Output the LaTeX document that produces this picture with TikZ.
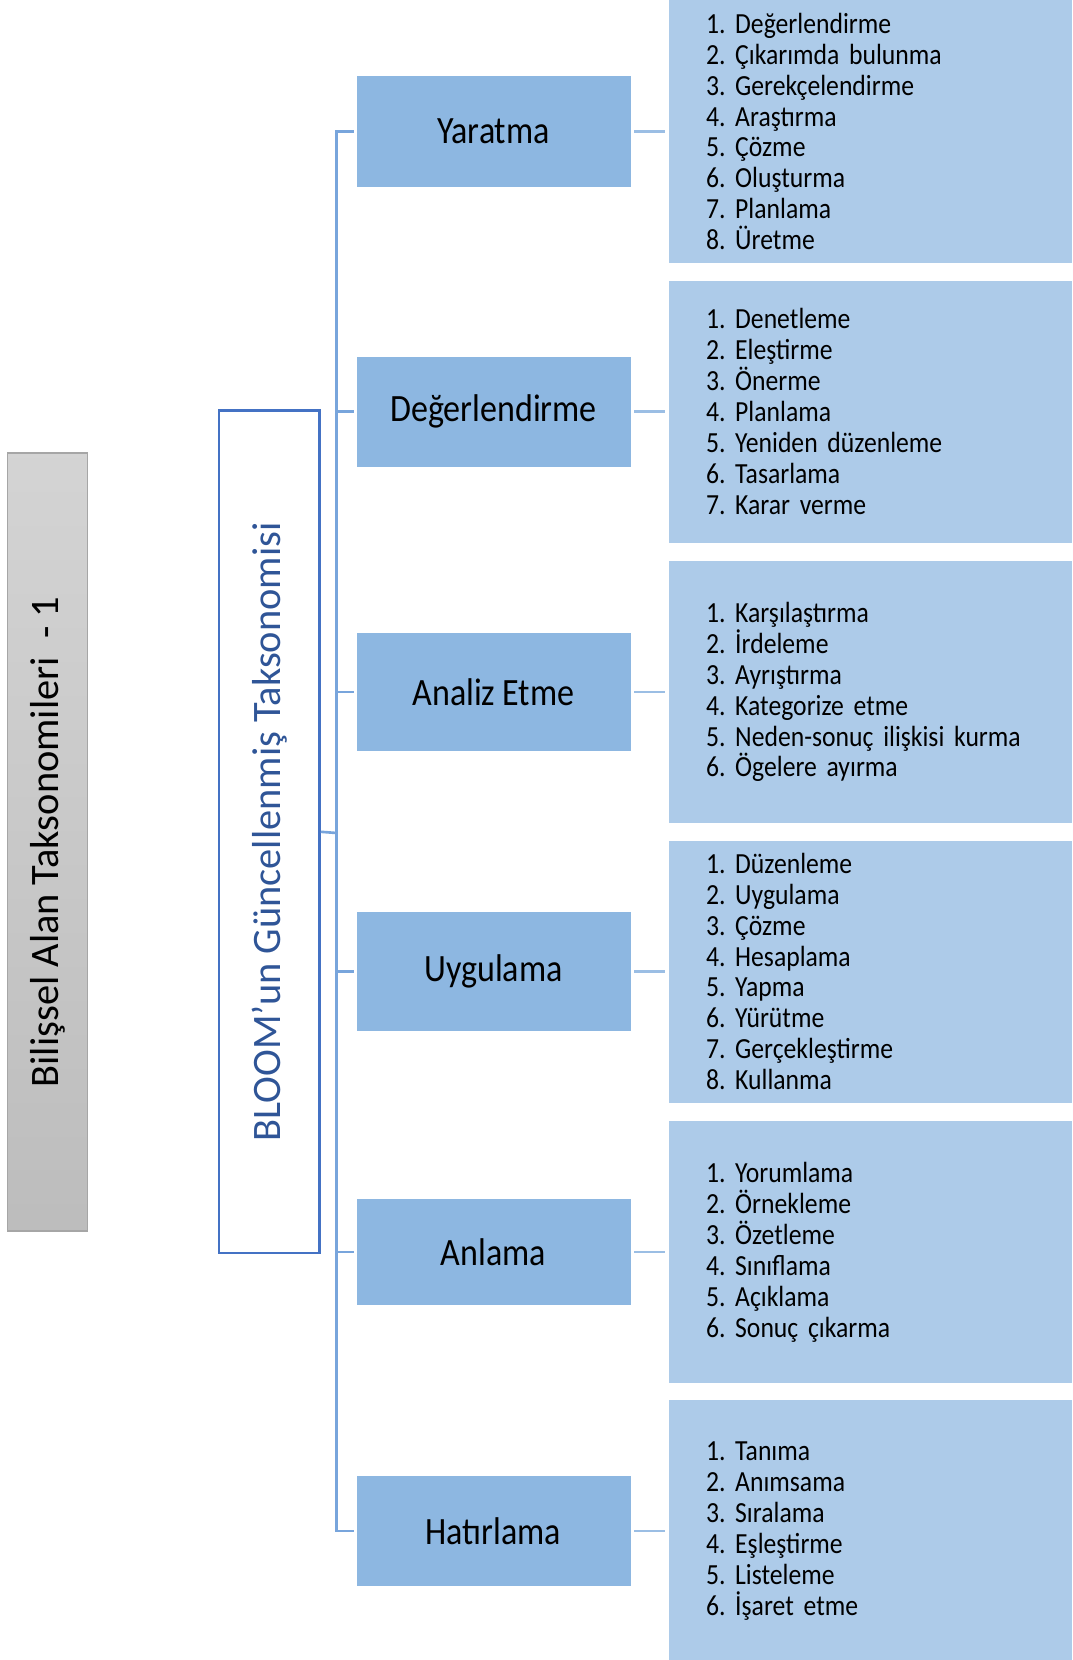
\documentclass[tikz,border=0pt]{standalone}
\usepackage{fontspec}
\setmainfont{Carlito}
\newfontfamily\dar[FakeStretch=0.88]{Carlito}
\newcommand\darbosluk{\spaceskip=0.19em\relax}
\frenchspacing

\definecolor{kategorimavi}{RGB}{141,183,225}
\definecolor{listemavi}{RGB}{173,203,233}
\definecolor{govdemavi}{RGB}{120,165,220}
\definecolor{dalmavi}{RGB}{155,190,228}
\definecolor{bloommavi}{RGB}{47,85,151}
\definecolor{bloomcerceve}{RGB}{68,114,196}

\tikzset{
  kategori/.style={fill=kategorimavi, minimum width=5.48cm, inner sep=0pt,
    font=\dar\fontsize{22}{26}\selectfont\darbosluk},
  liste/.style={fill=listemavi, text width=6.58cm, inner xsep=0.74cm, inner ysep=0pt,
    minimum height=5.24cm, align=left, font=\dar\fontsize{16.6}{17.6}\selectfont\darbosluk},
  govde/.style={draw=govdemavi, line width=1.5pt},
  dal/.style={draw=dalmavi, line width=1.5pt, shorten <=2pt, shorten >=2pt}
}

\begin{document}
\begin{tikzpicture}

\useasboundingbox (0,0) rectangle (21.44,-33.2);

\node at (0.952,-16.84) [rotate=90, minimum width=15.56cm, minimum height=1.61cm,
  top color=black!17, bottom color=black!26, draw=black!35, line width=0.6pt,
  font=\fontsize{23}{27}\selectfont] (baslik) {Bilişsel Alan Taksonomileri\ \ - 1};

\node at (5.386,-16.636) [rotate=90, minimum width=16.85cm, minimum height=2.01cm,
  draw=bloomcerceve, line width=1.4pt, text=bloommavi,
  font=\fontsize{23}{27}\selectfont] (bloom) {BLOOM’un Güncellenmiş Taksonomisi};

\node at (9.87,-2.63) [kategori, minimum height=2.22cm] (yaratma) {Yaratma};
\node at (9.87,-8.23) [kategori, minimum height=2.2cm] (degerlendirme) {Değerlendirme};
\node at (9.87,-13.84) [kategori, minimum height=2.37cm] (analiz) {Analiz Etme};
\node at (9.87,-19.43) [kategori, minimum height=2.37cm] (uygulama) {Uygulama};
\node at (9.87,-25.04) [kategori, minimum height=2.12cm] (anlama) {Anlama};
\node at (9.87,-30.62) [kategori, minimum height=2.2cm] (hatirlama) {Hatırlama};

\node at (17.41,-2.63) [liste] (l1) {1. Değerlendirme\\2. Çıkarımda bulunma\\3. Gerekçelendirme\\4. Araştırma\\5. Çözme\\6. Oluşturma\\7. Planlama\\8. Üretme};
\node at (17.41,-8.23) [liste] (l2) {1. Denetleme\\2. Eleştirme\\3. Önerme\\4. Planlama\\5. Yeniden düzenleme\\6. Tasarlama\\7. Karar verme};
\node at (17.41,-13.84) [liste] (l3) {1. Karşılaştırma\\2. İrdeleme\\3. Ayrıştırma\\4. Kategorize etme\\5. Neden-sonuç ilişkisi kurma\\6. Ögelere ayırma};
\node at (17.41,-19.43) [liste] (l4) {1. Düzenleme\\2. Uygulama\\3. Çözme\\4. Hesaplama\\5. Yapma\\6. Yürütme\\7. Gerçekleştirme\\8. Kullanma};
\node at (17.41,-25.04) [liste] (l5) {1. Yorumlama\\2. Örnekleme\\3. Özetleme\\4. Sınıflama\\5. Açıklama\\6. Sonuç çıkarma};
\node at (17.41,-30.62) [liste] (l6) {1. Tanıma\\2. Anımsama\\3. Sıralama\\4. Eşleştirme\\5. Listeleme\\6. İşaret etme};

\coordinate (kok) at (6.73,-16.66);

\draw[govde] (bloom.south) -- (kok);
\draw[govde] ([xshift=-1.5pt]yaratma.west) -- (yaratma.west -| kok) -- (hatirlama.west -| kok) -- ([xshift=-1.5pt]hatirlama.west);
\draw[govde] (degerlendirme.west -| kok) -- ([xshift=-1.5pt]degerlendirme.west);
\draw[govde] (analiz.west -| kok) -- ([xshift=-1.5pt]analiz.west);
\draw[govde] (uygulama.west -| kok) -- ([xshift=-1.5pt]uygulama.west);
\draw[govde] (anlama.west -| kok) -- ([xshift=-1.5pt]anlama.west);

\draw[dal] (yaratma) -- (l1);
\draw[dal] (degerlendirme) -- (l2);
\draw[dal] (analiz) -- (l3);
\draw[dal] (uygulama) -- (l4);
\draw[dal] (anlama) -- (l5);
\draw[dal] (hatirlama) -- (l6);

\end{tikzpicture}
\end{document}
